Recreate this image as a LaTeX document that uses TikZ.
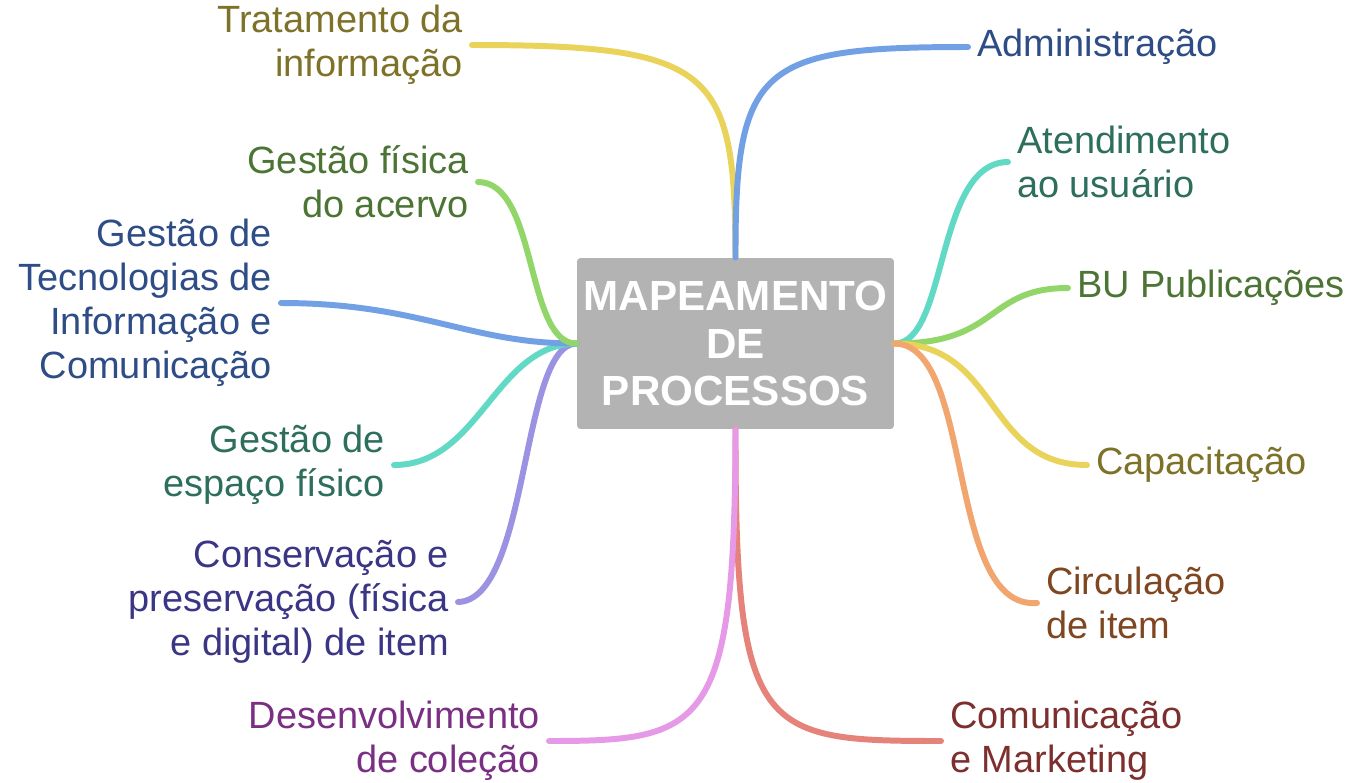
\documentclass[tikz,border=0pt]{standalone}
\usepackage{fontspec}
\setmainfont{Liberation Sans}
\definecolor{caixa}{HTML}{B3B3B3}
\definecolor{amarelo}{HTML}{E9D35B}
\definecolor{azul}{HTML}{72A0E5}
\definecolor{turquesa}{HTML}{62D9C4}
\definecolor{verde}{HTML}{92D66A}
\definecolor{laranja}{HTML}{F2A66F}
\definecolor{vermelho}{HTML}{E5827A}
\definecolor{rosa}{HTML}{E699E6}
\definecolor{lilas}{HTML}{9B92E2}
\definecolor{oliva}{HTML}{7D7228}
\definecolor{azulesc}{HTML}{2E4C85}
\definecolor{tealesc}{HTML}{2D6E5C}
\definecolor{verdeesc}{HTML}{4C7434}
\definecolor{marrom}{HTML}{7E4722}
\definecolor{vinho}{HTML}{7D2F2E}
\definecolor{roxo}{HTML}{7B2F84}
\definecolor{anil}{HTML}{3B3585}
\begin{document}
\begin{tikzpicture}[x=0.02cm, y=-0.02cm,
  ramo/.style={line width=3.4pt, line cap=round},
  dir/.style={anchor=west, align=left, inner xsep=5pt, inner ysep=0pt,
    font=\fontsize{21.6}{25}\selectfont},
  esq/.style={anchor=east, align=right, inner xsep=5pt, inner ysep=0pt,
    font=\fontsize{21.6}{25}\selectfont}]
\useasboundingbox (0,0) rectangle (1350,782);
% no central
\node (mp) at (735.5,343.5)[fill=caixa, rounded corners=2pt, minimum width=6.34cm,
  minimum height=3.42cm, inner sep=0pt, text=white, align=center,
  font=\fontsize{24}{27.3}\selectfont\bfseries]{MAPEAMENTO\\DE\\PROCESSOS};
% ramos da direita
\node (adm) at (968,47)[dir, text=azulesc]{Administração};
\node (aten) at (1008,162)[dir, text=tealesc]{Atendimento\\ao usuário};
\node (bu) at (1068,288)[dir, text=verdeesc]{BU Publicações};
\node (cap) at (1087,465)[dir, text=oliva]{Capacitação};
\node (circ) at (1037,603)[dir, text=marrom]{Circulação\\de item};
\node (com) at (941,741)[dir, text=vinho]{Comunicação\\e Marketing};
% ramos da esquerda
\node (trat) at (472,45)[esq, text=oliva]{Tratamento da\\informação};
\node (fis) at (478,182)[esq, text=verdeesc]{Gestão física\\do acervo};
\node (tic) at (281,303)[esq, text=azulesc]{Gestão de\\Tecnologias de\\Informação e\\Comunicação};
\node (esp) at (394,465)[esq, text=tealesc]{Gestão de\\espaço físico};
\node (cons) at (458,602)[esq, text=anil]{Conservação e\\preservação (física\\e digital) de item};
\node (des) at (549,741)[esq, text=roxo]{Desenvolvimento\\de coleção};
% conexoes
\draw[ramo, amarelo](mp.north) .. controls (735,70) and (715,45) .. (trat.east);
\draw[ramo, azul](mp.north) .. controls (735,65) and (760,47) .. (adm.west);
\draw[ramo, turquesa](mp.east) .. controls (948,344) and (935,162) .. (aten.west);
\draw[ramo, verde](mp.east) .. controls (1000,344) and (985,288) .. (bu.west);
\draw[ramo, amarelo](mp.east) .. controls (1000,344) and (985,465) .. (cap.west);
\draw[ramo, laranja](mp.east) .. controls (975,344) and (945,610) .. (circ.west);
\draw[ramo, vermelho](mp.south) .. controls (735,735) and (760,741) .. (com.west);
\draw[ramo, rosa](mp.south) .. controls (735,730) and (705,741) .. (des.east);
\draw[ramo, lilas](mp.west) .. controls (520,344) and (530,600) .. (cons.east);
\draw[ramo, turquesa](mp.west) .. controls (495,344) and (480,465) .. (esp.east);
\draw[ramo, azul](mp.west) .. controls (470,344) and (420,303) .. (tic.east);
\draw[ramo, verde](mp.west) .. controls (525,344) and (538,182) .. (fis.east);
\end{tikzpicture}
\end{document}
